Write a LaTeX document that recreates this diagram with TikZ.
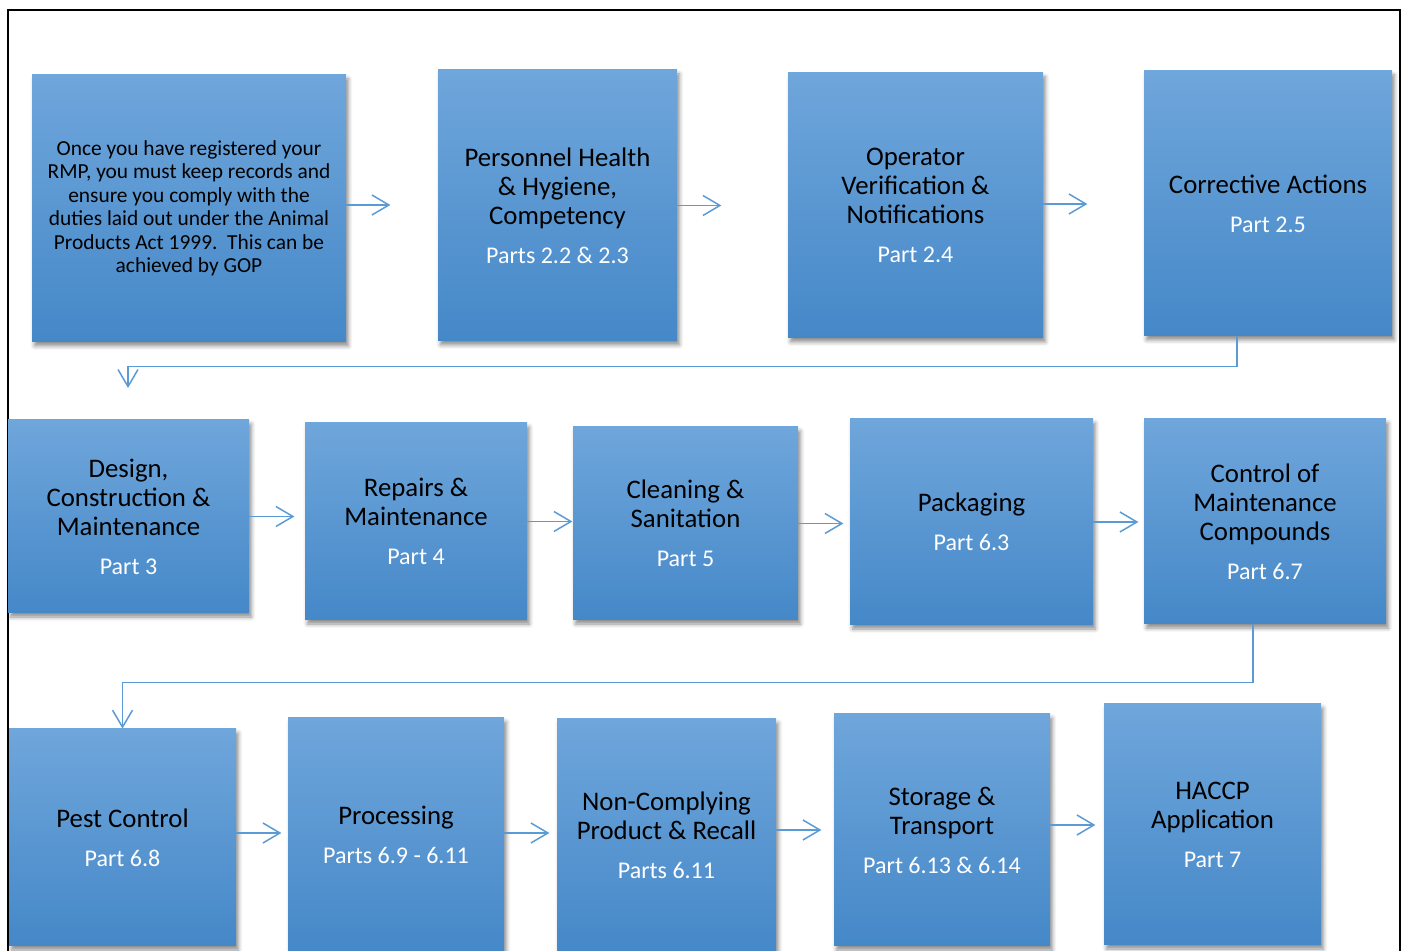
\documentclass[tikz,border=0pt]{standalone}
\usepackage{fontspec}
\setmainfont{Carlito}
\usepackage{tikz}
\usetikzlibrary{arrows.meta,shadows.blur}

\definecolor{boxtop}{HTML}{6FA6DB}
\definecolor{boxbot}{HTML}{4588C8}
\definecolor{linkblue}{HTML}{5B9BD5}

\newcommand{\partline}[1]{\\[5pt]{\color{white}\fontsize{12}{13}\selectfont #1}}

\tikzset{
  stage/.style={top color=boxtop, bottom color=boxbot, align=center, inner sep=0pt,
    font=\fontsize{13.4}{14.5}\selectfont,
    blur shadow={shadow xshift=1.2pt, shadow yshift=-2pt, shadow blur radius=2pt, shadow opacity=45}},
  flow/.style={draw=linkblue, line width=0.75pt, -{Straight Barb[length=8.5pt,width=10pt,line width=0.75pt]}}
}

\begin{document}
\begin{tikzpicture}[x=0.5pt,y=-0.5pt]
        \useasboundingbox (0,0) rectangle (1405,951);
        \draw[line width=1pt] (7.5,980) -- (7.5,10.5) -- (1400,10.5) -- (1400,980);

        % first row
        \node[stage, minimum width=157pt, minimum height=133.5pt, font=\fontsize{10.7}{11.75}\selectfont] (b1) at (189,208.5)
            {Once you have registered your\\ RMP, you must keep records and\\ ensure you comply with the\\ duties laid out under the Animal\\ Products Act 1999.\ \ This can be\\ achieved by GOP};
        \node[stage, minimum width=119.5pt, minimum height=135.5pt] (b2) at (557.5,205.5)
            {Personnel Health\\ \& Hygiene,\\ Competency\partline{Parts 2.2 \& 2.3}};
        \node[stage, minimum width=127.5pt, minimum height=132.5pt] (b3) at (915.5,205.5)
            {Operator\\ Verification \&\\ Notifications\partline{Part 2.4}};
        \node[stage, minimum width=124pt, minimum height=132.5pt] (b4) at (1268,203.5)
            {Corrective Actions\partline{Part 2.5}};

        % second row
        \node[stage, minimum width=120.5pt, minimum height=96.5pt] (c1) at (128.5,516.5)
            {Design,\\ Construction \&\\ Maintenance\partline{Part 3}};
        \node[stage, minimum width=111pt, minimum height=98.5pt] (c2) at (416,521.5)
            {Repairs \&\\ Maintenance\partline{Part 4}};
        \node[stage, minimum width=112.5pt, minimum height=96.5pt] (c3) at (685.5,523.5)
            {Cleaning \&\\ Sanitation\partline{Part 5}};
        \node[stage, minimum width=121.5pt, minimum height=103pt] (c4) at (971.5,522)
            {Packaging\partline{Part 6.3}};
        \node[stage, minimum width=121pt, minimum height=102.5pt] (c5) at (1265,521.5)
            {Control of\\ Maintenance\\ Compounds\partline{Part 6.7}};

        % third row
        \node[stage, minimum width=113.5pt, minimum height=108.5pt] (d1) at (122.5,837.5)
            {Pest Control\partline{Part 6.8}};
        \node[stage, minimum width=108pt, minimum height=117pt] (d2) at (396,835)
            {Processing\partline{Parts 6.9 - 6.11}};
        \node[stage, minimum width=109.5pt, minimum height=116.5pt] (d3) at (666.5,835.5)
            {Non-Complying\\ Product \& Recall\partline{Parts 6.11}};
        \node[stage, minimum width=108pt, minimum height=116pt] (d4) at (942,830)
            {Storage \&\\ Transport\partline{Part 6.13 \& 6.14}};
        \node[stage, minimum width=108.5pt, minimum height=120.5pt] (d5) at (1212.5,824.5)
            {HACCP\\ Application\partline{Part 7}};

        \coordinate (e1) at (128,388);

        \draw[flow] ([yshift=1.75pt]b1.east) -- ++(44,0);
        \draw[flow] (b2.east) -- ++(44,0);
        \draw[flow] ([yshift=0.75pt]b3.east) -- ++(44,0);
        \draw[flow] ([xshift=-15.5pt]b4.south) -- ++(0,30) -| (e1);

        \draw[flow] (c1.east) -- ++(45,0);
        \draw[flow] (c2.east) -- ++(45,0);
        \draw[flow] (c3.east) -- ++(45,0);
        \draw[flow] (c4.east) -- ++(45,0);
        \draw[flow] ([xshift=-6pt]c5.south) -- ++(0,58) -| (d1.north);

        \draw[flow] ([yshift=2.25pt]d1.east) -- ++(45,0);
        \draw[flow] ([yshift=1pt]d2.east) -- ++(45,0);
        \draw[flow] ([yshift=2.75pt]d3.east) -- ++(45,0);
        \draw[flow] ([yshift=2.5pt]d4.east) -- ++(45,0);
    \end{tikzpicture}
\end{document}
